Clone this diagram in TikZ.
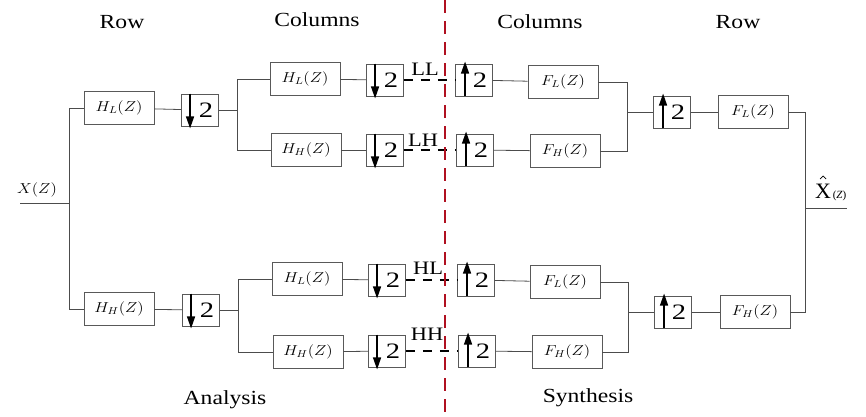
\documentclass[tikz,border=0pt]{standalone}
\usepackage{fontspec}
\setmainfont{Liberation Serif}
\usetikzlibrary{arrows.meta}
\definecolor{cutred}{RGB}{176,16,32}
\newcommand{\wide}[2][1.18]{\scalebox{#1}[1]{#2}}
\newcommand{\two}{\hspace*{12pt}\wide[1.3]{2}}
\tikzset{
  filt/.style={draw=black!65,line width=0.9pt,minimum width=70pt,minimum height=33pt,inner sep=0pt,font=\fontsize{14}{14}\selectfont},
  samp/.style={draw=black!65,line width=0.9pt,minimum width=37pt,minimum height=32pt,inner sep=0pt,font=\fontsize{22}{22}\selectfont},
  wire/.style={draw=black!70,line width=0.8pt},
  band/.style={line width=2.2pt,dash pattern=on 9pt off 8pt},
  head/.style={font=\fontsize{20}{20}\selectfont},
  sub/.style={font=\fontsize{19}{19}\selectfont,inner sep=0pt},
  tip/.style={-{Triangle[length=12pt,width=8pt]},line width=1.3pt}
}
\begin{document}
\begin{tikzpicture}[x=1pt,y=-1pt]
\useasboundingbox (0,0) rectangle (866,416);
% analysis side
\node[filt] (rL) at (119,108) {\wide[1.15]{$H_L(Z)$}};
\node[filt] (rH) at (119,309) {\wide[1.15]{$H_H(Z)$}};
\node[samp] (dsL) at (200,110) {\two};
\node[samp] (dsH) at (201,310) {\two};
\node[filt] (cLL) at (305,79) {\wide[1.15]{$H_L(Z)$}};
\node[filt] (cLH) at (306,150) {\wide[1.15]{$H_H(Z)$}};
\node[filt] (cHL) at (307,279) {\wide[1.15]{$H_L(Z)$}};
\node[filt] (cHH) at (308,352) {\wide[1.15]{$H_H(Z)$}};
\node[samp] (dLL) at (385,80) {\two};
\node[samp] (dLH) at (385,150) {\two};
\node[samp] (dHL) at (387,280) {\two};
\node[samp] (dHH) at (387,351) {\two};
% synthesis side
\node[samp] (uLL) at (474,80) {\two};
\node[samp] (uLH) at (475,150) {\two};
\node[samp] (uHL) at (476,280) {\two};
\node[samp] (uHH) at (477,351) {\two};
\node[filt] (fLL) at (563,82) {\wide[1.15]{$F_L(Z)$}};
\node[filt] (fLH) at (565,151) {\wide[1.15]{$F_H(Z)$}};
\node[filt] (fHL) at (565,282) {\wide[1.15]{$F_L(Z)$}};
\node[filt] (fHH) at (567,352) {\wide[1.15]{$F_H(Z)$}};
\node[samp] (usT) at (672,112) {\two};
\node[samp] (usB) at (673,312) {\two};
\node[filt] (frL) at (753,112) {\wide[1.15]{$F_L(Z)$}};
\node[filt] (frH) at (755,312) {\wide[1.15]{$F_H(Z)$}};
% junctions
\coordinate (xin) at (20,203);
\coordinate (split) at (69,203);
\coordinate (bL) at (237,110);
\coordinate (bH) at (238,310);
\coordinate (jT) at (627,112);
\coordinate (jB) at (628,312);
\coordinate (jout) at (805,208);
\coordinate (xout) at (847,208);
\coordinate (cutT) at (445,0);
\coordinate (cutB) at (445,416);
% texts
\node[head] (hRowA) at (122,22) {\wide{Row}};
\node[head] (hColA) at (317,20) {\wide{Columns}};
\node[head] (hColS) at (540,22) {\wide{Columns}};
\node[head] (hRowS) at (738,22) {\wide{Row}};
\node[head] (hAna) at (225,400) {\wide{Analysis}};
\node[head] (hSyn) at (588,398) {\wide{Synthesis}};
\node[font=\fontsize{14}{14}\selectfont] (xlab) at (37,190) {\wide[1.15]{$X(Z)$}};
\node[inner sep=0pt,anchor=base west] (xhat) at (815,198) {{\fontsize{22}{22}\selectfont X}\,{\fontsize{11}{11}\selectfont(\textit{Z})}};
\draw[line width=0.7pt] ([shift={(5,-19)}]xhat.base west) -- ([shift={(8,-22)}]xhat.base west) -- ([shift={(11,-19)}]xhat.base west);
\node[sub] (lLL) at (425,69) {\wide{LL}};
\node[sub] (lLH) at (423,140) {\wide{LH}};
\node[sub] (lHL) at (428,268) {\wide{HL}};
\node[sub] (lHH) at (427,334) {\wide{HH}};
% arrows in the sampler boxes
\foreach \b in {dsL,dsH,dLL,dLH,dHL,dHH}
  \draw[tip] ([xshift=9pt]\b.north west) -- ([xshift=9pt,yshift=-2pt]\b.south west);
\foreach \b in {uLL,uLH,uHL,uHH,usT,usB}
  \draw[tip] ([xshift=10pt]\b.south west) -- ([xshift=10pt,yshift=2pt]\b.north west);
% wires
\draw[wire] (xin) -- (split);
\draw[wire] (split) |- (rL.west);
\draw[wire] (split) |- (rH.west);
\draw[wire] (rL) -- (dsL);
\draw[wire] (rH) -- (dsH);
\draw[wire] (dsL) -- (bL);
\draw[wire] (dsH) -- (bH);
\draw[wire] (bL) |- (cLL.west);
\draw[wire] (bL) |- (cLH.west);
\draw[wire] (bH) |- (cHL.west);
\draw[wire] (bH) |- (cHH.west);
\foreach \a in {LL,LH,HL,HH} {
  \draw[wire] (c\a) -- (d\a);
  \draw[band] (d\a) -- (u\a);
  \draw[wire] (u\a) -- (f\a);
}
\draw[wire] (fLL.east) -| (jT);
\draw[wire] (fLH.east) -| (jT);
\draw[wire] (fHL.east) -| (jB);
\draw[wire] (fHH.east) -| (jB);
\draw[wire] (jT) -- (usT);
\draw[wire] (jB) -- (usB);
\draw[wire] (usT) -- (frL);
\draw[wire] (usB) -- (frH);
\draw[wire] (frL.east) -| (jout);
\draw[wire] (frH.east) -| (jout);
\draw[wire] (jout) -- (xout);
% cut between analysis and synthesis
\draw[cutred,line width=2.6pt,dash pattern=on 13pt off 8pt] (cutT) -- (cutB);
\end{tikzpicture}
\end{document}
